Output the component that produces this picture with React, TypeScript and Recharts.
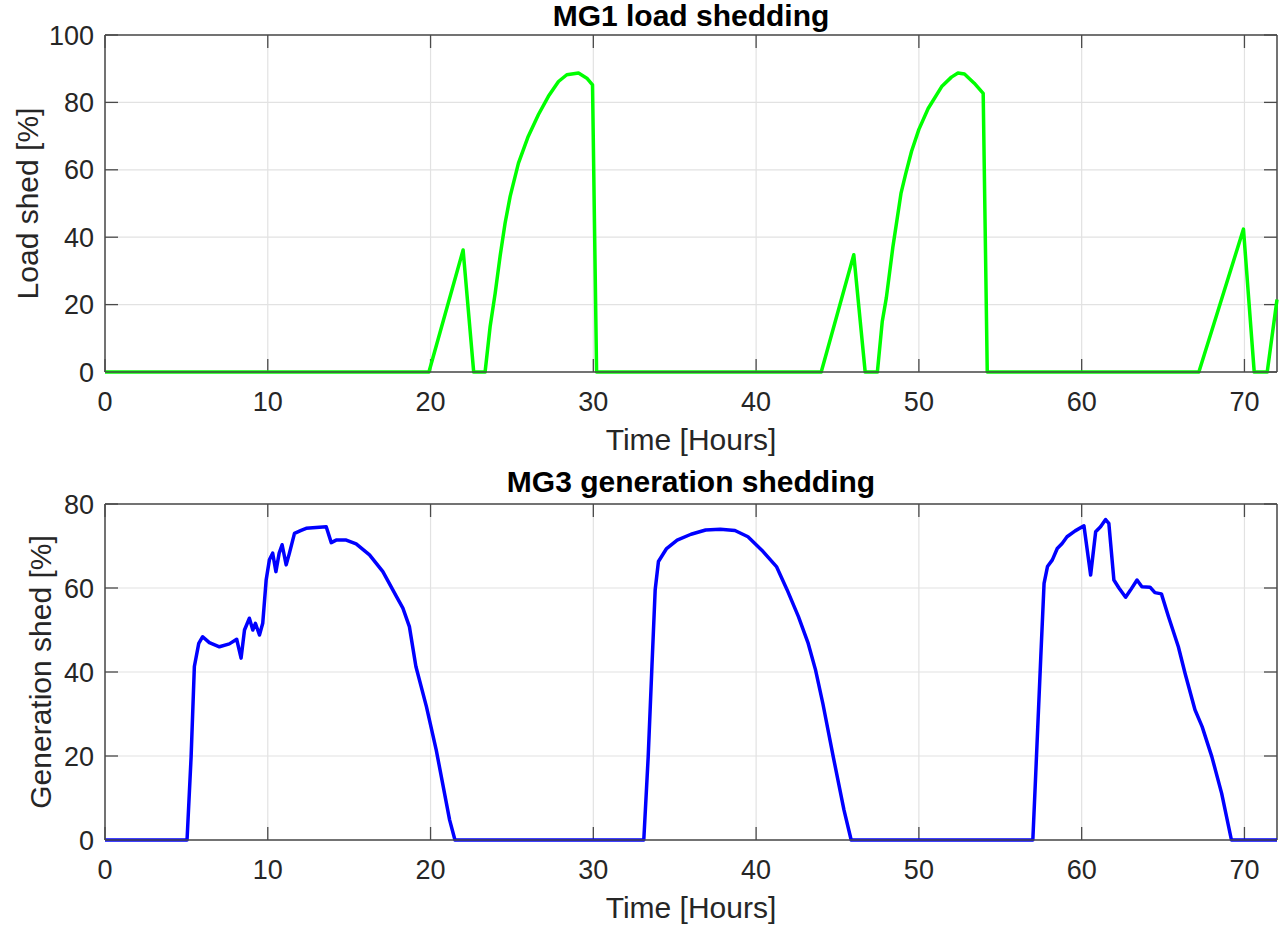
import React from 'react'
import { LineChart, Line, XAxis, YAxis, CartesianGrid, Label, ReferenceLine } from 'recharts'

// MG1 load shedding
const mg1Hours = [
  0, 19.9, 22.0, 22.65, 23.35, 23.66, 23.97, 24.27, 24.58, 24.89, 25.4, 26.0, 26.63, 27.24, 27.86, 28.37, 29.09,
  29.6, 29.95, 30.2,
  44.0, 46.0, 46.7, 47.45, 47.75, 48.0, 48.4, 48.9, 49.2, 49.55, 50.0, 50.57, 51.4, 52.0, 52.4, 52.8, 53.4, 53.95,
  54.2,
  67.2, 69.94, 70.6, 71.4, 72,
]
const mg1Shed = [
  0, 0, 36.2, 0, 0, 13.5, 23.4, 34.3, 44.2, 52.1, 62, 69.9, 76.4, 81.8, 86.2, 88.2, 88.7,
  87.2, 85.2, 0,
  0, 34.8, 0, 0, 15, 22, 37, 53, 59, 65.5, 72, 78.2, 84.7, 87.5, 88.7, 88.4, 85.7, 82.7,
  0,
  0, 42.4, 0, 0, 21.5,
]

// MG3 generation shedding
const mg3Hours = [
  0, 5.04, 5.29, 5.49, 5.76, 6.0, 6.41, 7.03, 7.64, 8.09, 8.36, 8.57, 8.87, 9.08, 9.24, 9.49, 9.69, 9.9, 10.1, 10.3,
  10.5, 10.7, 10.88, 11.13, 11.33, 11.64, 12.05, 12.36, 12.97, 13.59, 13.9, 14.2, 14.82, 15.43, 16.25, 17.07, 17.9,
  18.3, 18.7, 19.1, 19.75, 20.35, 21.17, 21.5,
  33.1, 33.37, 33.6, 33.8, 34.0, 34.5, 35.15, 36.0, 36.9, 37.8, 38.7, 39.5, 40.35, 41.25, 41.9, 42.6, 43.2, 43.65,
  44.1, 44.74, 45.4, 45.84,
  57.0, 57.18, 57.49, 57.69, 57.9, 58.2, 58.5, 58.8, 59.1, 59.6, 60.14, 60.55, 60.86, 61.16, 61.47, 61.67, 61.98,
  62.29, 62.7, 63.0, 63.4, 63.7, 64.2, 64.5, 64.9, 65.33, 65.94, 66.35, 66.96, 67.4, 68.0, 68.6, 69.2, 72,
]
const mg3Shed = [
  0, 0, 19.8, 41.3, 46.8, 48.4, 47, 46, 46.7, 47.8, 43.3, 50, 52.8, 50, 51.6, 48.8, 51.6, 61.9, 66.7, 68.3,
  63.9, 68.3, 70.3, 65.5, 68.3, 73, 73.7, 74.2, 74.4, 74.6, 70.8, 71.4, 71.4, 70.5, 67.9, 63.9, 58,
  55.2, 50.8, 41.3, 31.7, 21.4, 4.8, 0,
  0, 19.8, 41.3, 59.6, 66.3, 69.4, 71.4, 72.8, 73.8, 74, 73.7, 72.2, 69, 65.1, 59.6, 53.2, 46.8, 40.5,
  32.5, 19.8, 7.1, 0,
  0, 15.9, 43.7, 61.1, 65.1, 66.7, 69.4, 70.6, 72.2, 73.6, 74.8, 63.1, 73.4, 74.6, 76.3, 75.4, 61.9,
  60, 57.8, 59.5, 61.9, 60.3, 60.2, 58.9, 58.6, 53.2, 46, 39.7, 31, 27, 19.8, 11.1, 0, 0,
]

const hourTicks = [0, 10, 20, 30, 40, 50, 60, 70]
const loadTicks = [0, 20, 40, 60, 80, 100]
const genTicks = [0, 20, 40, 60, 80]

const X_MAX = 72
const CHART_H = 464
const FONT = '"Liberation Sans", Arial, Helvetica, sans-serif'
const AXIS = '#4a4a4a'
const TEXT = '#262626'

type PanelProps = {
  title: string
  yLabel: string
  hours: number[]
  values: number[]
  color: string
  yMax: number
  yTicks: number[]
  top: number
  bottom: number
  titleGap: number
  yLabelX: number
}

function Panel({ title, yLabel, hours, values, color, yMax, yTicks, top, bottom, titleGap, yLabelX }: PanelProps) {
  const data = hours.map((t, i) => ({ t, v: values[i] }))
  const plotH = CHART_H - top - bottom
  const tickTextY = top + plotH + 39
  // inward tick marks (MATLAB style), ~13px long, expressed in data units
  const yTickLen = (yMax * 13) / plotH
  const xTickLen = (X_MAX * 13) / 1172
  return (
    <LineChart width={1283} height={CHART_H} data={data} margin={{ top, right: 6, left: 0, bottom: 0 }}>
      <CartesianGrid stroke="#e2e2e2" strokeWidth={1.2} />
      <XAxis
        dataKey="t"
        type="number"
        domain={[0, X_MAX]}
        ticks={hourTicks}
        interval={0}
        height={bottom}
        tickLine={false}
        tickSize={0}
        tick={(p: any) => (
          <text key={p.index} x={p.x} y={tickTextY} textAnchor="middle" fill={TEXT} fontSize={27} fontFamily={FONT}>
            {p.payload.value}
          </text>
        )}
        stroke={AXIS}
        strokeWidth={1.5}
      >
        <Label
          content={({ viewBox }: any) => (
            <text
              x={viewBox.x + viewBox.width / 2}
              y={viewBox.y + 78}
              textAnchor="middle"
              fill={TEXT}
              fontSize={30}
              fontFamily={FONT}
            >
              Time [Hours]
            </text>
          )}
        />
      </XAxis>
      <YAxis
        type="number"
        domain={[0, yMax]}
        ticks={yTicks}
        interval={0}
        width={105}
        tickLine={false}
        tickSize={0}
        tickMargin={11}
        tick={(p: any) => (
          <text key={p.index} x={p.x} y={p.y} dy={9.5} textAnchor="end" fill={TEXT} fontSize={27} fontFamily={FONT}>
            {p.payload.value}
          </text>
        )}
        stroke={AXIS}
        strokeWidth={1.5}
      >
        <Label
          content={({ viewBox }: any) => {
            const cy = viewBox.y + viewBox.height / 2
            return (
              <text
                x={yLabelX}
                y={cy}
                dy={10.5}
                transform={`rotate(-90 ${yLabelX} ${cy})`}
                textAnchor="middle"
                fill={TEXT}
                fontSize={30}
                fontFamily={FONT}
              >
                {yLabel}
              </text>
            )
          }}
        />
      </YAxis>
      {/* box frame: top and right edges */}
      <ReferenceLine y={yMax} stroke={AXIS} strokeWidth={1.5}>
        <Label
          content={({ viewBox }: any) => (
            <text
              x={viewBox.x + viewBox.width / 2}
              y={viewBox.y - titleGap}
              textAnchor="middle"
              fill="#000"
              fontSize={30}
              fontWeight="bold"
              fontFamily={FONT}
            >
              {title}
            </text>
          )}
        />
      </ReferenceLine>
      <ReferenceLine x={X_MAX} stroke={AXIS} strokeWidth={1.5} />
      {hourTicks.map((t) => (
        <ReferenceLine key={`b${t}`} segment={[{ x: t, y: 0 }, { x: t, y: yTickLen }]} stroke={AXIS} strokeWidth={1.3} />
      ))}
      {hourTicks.map((t) => (
        <ReferenceLine key={`t${t}`} segment={[{ x: t, y: yMax }, { x: t, y: yMax - yTickLen }]} stroke={AXIS} strokeWidth={1.3} />
      ))}
      {yTicks.map((v) => (
        <ReferenceLine key={`l${v}`} segment={[{ x: 0, y: v }, { x: xTickLen, y: v }]} stroke={AXIS} strokeWidth={1.3} />
      ))}
      {yTicks.map((v) => (
        <ReferenceLine key={`r${v}`} segment={[{ x: X_MAX, y: v }, { x: X_MAX - xTickLen, y: v }]} stroke={AXIS} strokeWidth={1.3} />
      ))}
      <Line
        type="linear"
        dataKey="v"
        stroke={color}
        strokeWidth={3.5}
        strokeLinejoin="round"
        dot={false}
        activeDot={false}
        isAnimationActive={false}
      />
    </LineChart>
  )
}

export default function App() {
  return (
    <div style={{ position: 'absolute', left: 0, top: 0, width: 1283, height: 928, background: '#fff' }}>
      <Panel
        title="MG1 load shedding"
        yLabel="Load shed [%]"
        hours={mg1Hours}
        values={mg1Shed}
        color="#00ff00"
        yMax={100}
        yTicks={loadTicks}
        top={35}
        bottom={92}
        titleGap={9}
        yLabelX={27}
      />
      <Panel
        title="MG3 generation shedding"
        yLabel="Generation shed [%]"
        hours={mg3Hours}
        values={mg3Shed}
        color="#0000ff"
        yMax={80}
        yTicks={genTicks}
        top={40}
        bottom={88}
        titleGap={12}
        yLabelX={40}
      />
    </div>
  )
}
